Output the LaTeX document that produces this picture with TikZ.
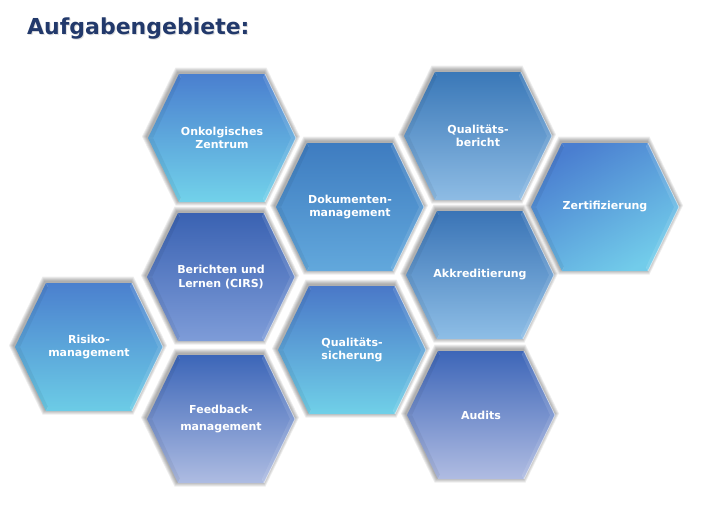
\documentclass[tikz,border=0pt]{standalone}
\usepackage{fontspec}
\setmainfont{DejaVu Sans}
\definecolor{titleblue}{HTML}{22396B}
\tikzset{
  hexlabel/.style={text=white, font=\bfseries\fontsize{11}{13.5}\selectfont, align=center, inner sep=0pt},
  shadowlayer/.style={fill=black, fill opacity=0.07},
  leftfacet/.style={fill=black, fill opacity=0.05},
  rightfacet/.style={fill=white, fill opacity=0.10},
  bevelline/.style={draw=white, draw opacity=0.18, line width=0.4pt},
  rimline/.style={draw=white, draw opacity=0.55, line width=0.8pt},
}
% #1 name, #2 x, #3 y, #4 top colour, #5 bottom colour, #6 angle, #7 text
\newcommand\hexcell[7]{%
  \definecolor{hextop}{HTML}{#4}%
  \definecolor{hexbottom}{HTML}{#5}%
  \foreach \k in {1,2,3,4,5}{%
    \path[shadowlayer]
      (#2-75-\k,#3-1.5) -- (#2-44-0.5*\k,#3-65.5-\k) -- (#2+42+0.5*\k,#3-65.5-\k) -- (#2+73+\k,#3-1.5)
      -- (#2+42+0.5*\k,#3+62.5+\k) -- (#2-44-0.5*\k,#3+62.5+\k) -- cycle;
  }
  \path[top color=hextop, bottom color=hexbottom, shading angle=#6]
    (#2-74,#3) -- (#2-43,#3-64) -- (#2+43,#3-64) -- (#2+74,#3) -- (#2+43,#3+64) -- (#2-43,#3+64) -- cycle;
  \path[leftfacet] (#2-43,#3-64) -- (#2-74,#3) -- (#2-43,#3+64) -- (#2-41,#3+60) -- (#2-69,#3) -- (#2-41,#3-60) -- cycle;
  \path[rightfacet] (#2+43,#3-64) -- (#2+74,#3) -- (#2+43,#3+64) -- (#2+41,#3+60) -- (#2+69,#3) -- (#2+41,#3-60) -- cycle;
  \draw[bevelline] (#2-74,#3) -- (#2-69,#3) (#2-43,#3-64) -- (#2-41,#3-60) (#2+43,#3-64) -- (#2+41,#3-60)
    (#2+74,#3) -- (#2+69,#3) (#2+43,#3+64) -- (#2+41,#3+60) (#2-43,#3+64) -- (#2-41,#3+60);
  \draw[rimline] (#2+43,#3-64) -- (#2+74,#3) -- (#2+43,#3+64);
  \node[hexlabel] (#1) at (#2,#3) {#7};
}
\begin{document}
\begin{tikzpicture}[x=1pt, y=-1pt]
  \fill[white] (0,0) rectangle (708,506);
  \useasboundingbox (0,0) rectangle (708,506);
  % title
  \node[anchor=base west, text=black!12, font=\bfseries\fontsize{22}{24}\selectfont, inner sep=0pt] (titleshadow) at (28,35.5) {Aufgabengebiete:};
  \node[anchor=base west, text=titleblue, font=\bfseries\fontsize{22}{24}\selectfont, inner sep=0pt] (title) at (27,34) {Aufgabengebiete:};
  % hexagons
  \hexcell{onko}{222}{138}{4A7FCF}{72D2EA}{0}{Onkolgisches\\Zentrum}
  \hexcell{cirs}{221}{277}{3A62B2}{7E9CD8}{0}{Berichten und\\Lernen (CIRS)}
  \hexcell{feed}{221}{419}{3C66B8}{AEBCE2}{0}{Feedback-\\[4pt]management}
  \hexcell{risk}{89}{347}{4B80CE}{6CCCE6}{0}{Risiko-\\management}
  \hexcell{doku}{350}{207}{3E7CC0}{62A8DC}{0}{Dokumenten-\\management}
  \hexcell{qsich}{352}{350}{4A78C8}{70D0E8}{0}{Qualitäts-\\sicherung}
  \hexcell{qber}{478}{136}{3A78B8}{8EBCE4}{0}{Qualitäts-\\bericht}
  \hexcell{akkr}{480}{275}{3A74B6}{8EBEE6}{0}{Akkreditierung}
  \hexcell{audit}{481}{415}{3D66B8}{B0BCE2}{0}{Audits}
  \hexcell{zert}{605}{207}{4A7ED0}{72CCEA}{30}{Zertifizierung}
\end{tikzpicture}
\end{document}
